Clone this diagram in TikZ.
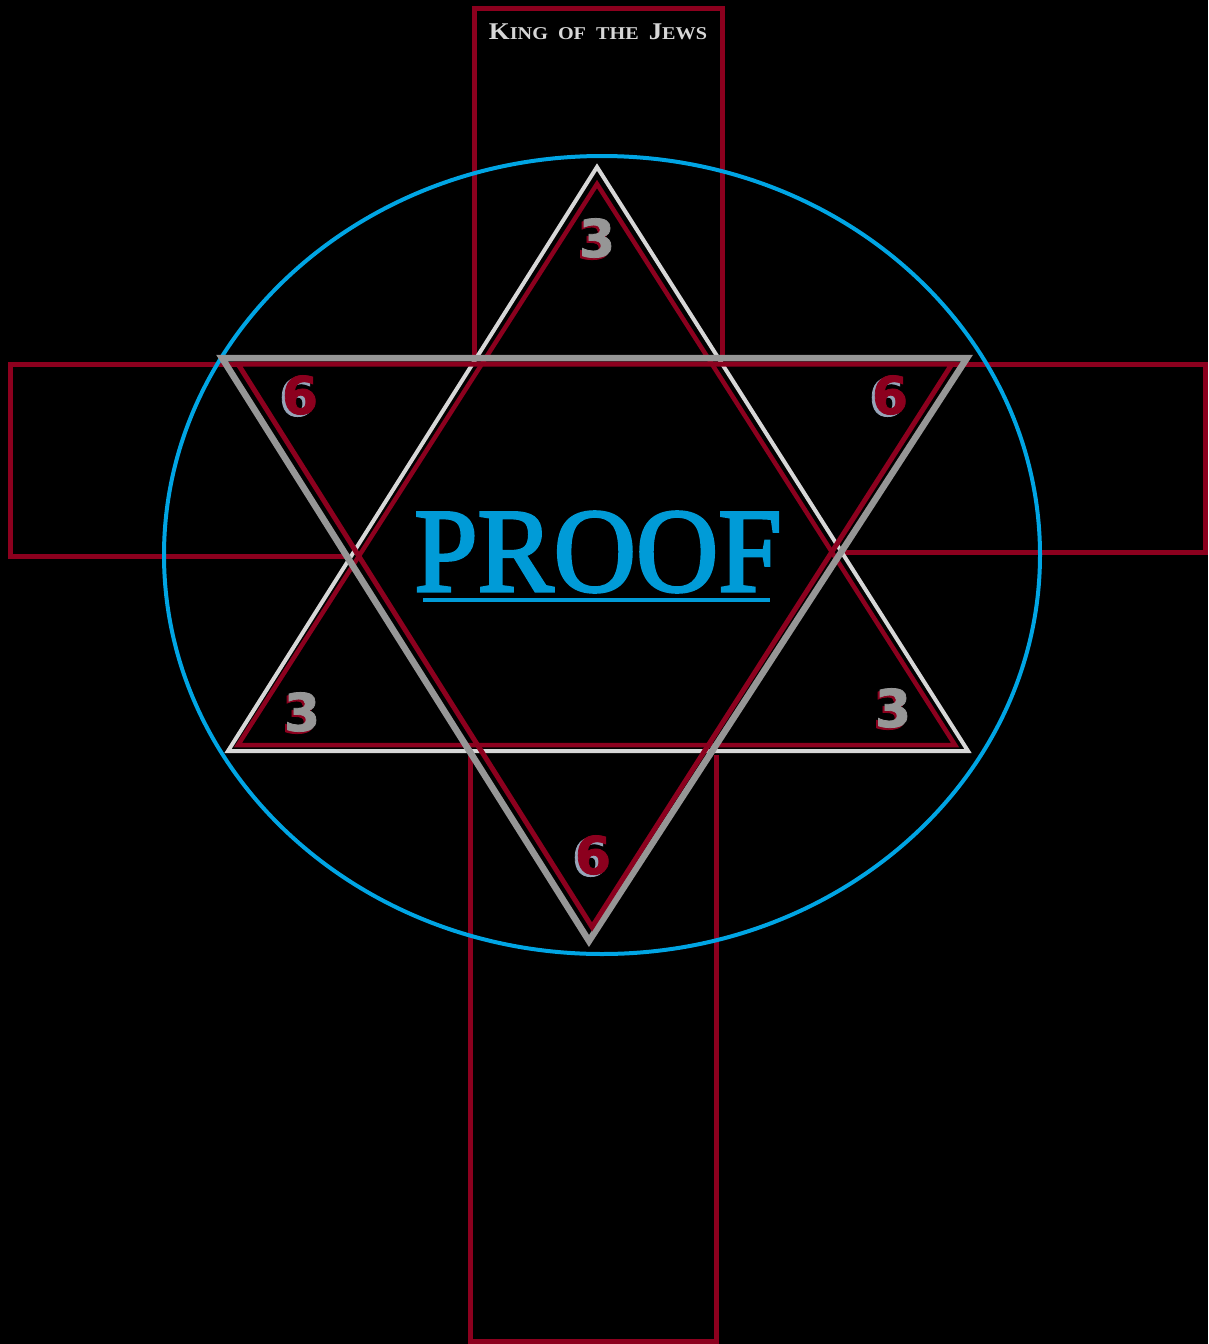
\documentclass[tikz,border=0pt]{standalone}
\usepackage{fontspec}
\setmainfont{Liberation Serif}
\newfontfamily\numfont[FakeBold=1.5]{DejaVu Sans Bold}
\newfontfamily\prooffont[FakeBold=2.5]{Liberation Serif}
\definecolor{crossred}{RGB}{140,0,30}
\definecolor{trigray}{RGB}{150,150,150}
\definecolor{triwhite}{RGB}{215,215,215}
\definecolor{ringblue}{RGB}{0,165,228}
\definecolor{proofblue}{RGB}{0,155,215}
\definecolor{shadowblue}{RGB}{150,165,185}
\tikzset{
  crossbox/.style={draw=crossred, line width=5pt, line join=miter},
  ring/.style={draw=ringblue, line width=4pt},
  uptri/.style={draw=triwhite, line width=4pt, line join=miter},
  upred/.style={draw=crossred, line width=4.5pt, line join=miter},
  downtri/.style={draw=trigray, line width=6.5pt, line join=miter},
  downred/.style={draw=crossred, line width=5pt, line join=miter},
  numbase/.style={font=\numfont\fontsize{52}{54}\selectfont, inner sep=0pt},
  numthree/.style={numbase, text=trigray},
  numthreeshadow/.style={numbase, text=crossred},
  numsix/.style={numbase, text=crossred},
  numsixshadow/.style={numbase, text=shadowblue},
}
\begin{document}
\begin{tikzpicture}[x=1pt, y=-1pt]
\useasboundingbox (0,0) rectangle (1208,1344);
\fill[black] (0,0) rectangle (1208,1344);

% vertices
\coordinate (wt) at (597,167);
\coordinate (wl) at (228,751);
\coordinate (wr) at (968,751);
\coordinate (rt) at (597,184);
\coordinate (rl) at (238,745);
\coordinate (rr) at (955,745);
\coordinate (gl) at (222,358);
\coordinate (gr) at (967,358);
\coordinate (gb) at (589,941);
\coordinate (dl) at (238,364);
\coordinate (dr) at (952,364);
\coordinate (db) at (592,927);

% cross
\draw[crossbox] (474,357) -- (474,8) -- (722,8) -- (722,357);
\draw[crossbox] (dl) -- (10,364) -- (10,556) -- (346,556);
\draw[crossbox] (dr) -- (1205,364) -- (1205,552) -- (842,552);
\draw[crossbox] (470,755) -- (470,1341) -- (716,1341) -- (716,755);

% ring
\draw[ring] (602,555) ellipse [x radius=438, y radius=399];

% upward triangles
\draw[uptri] (wt) -- (wl) -- (wr) -- cycle;
\draw[upred] (rt) -- (rl) -- (rr) -- cycle;

% downward triangles
\draw[downtri] (gl) -- (gr) -- (gb) -- cycle;
\draw[downred] (dl) -- (dr) -- (db) -- cycle;

% numbers
\node[numthreeshadow] (n1s) at (595,240) {3};
\node[numthree] (n1) at (597,238) {3};
\node[numthreeshadow] (n2s) at (300,714) {3};
\node[numthree] (n2) at (302,712) {3};
\node[numthreeshadow] (n3s) at (891,710) {3};
\node[numthree] (n3) at (893,708) {3};
\node[numsixshadow] (n4s) at (297,397) {6};
\node[numsix] (n4) at (300,395) {6};
\node[numsixshadow] (n5s) at (887,397) {6};
\node[numsix] (n5) at (890,395) {6};
\node[numsixshadow] (n6s) at (590,857) {6};
\node[numsix] (n6) at (593,855) {6};

% PROOF
\node[text=proofblue, inner sep=0pt, font=\prooffont\fontsize{120}{120}\selectfont, xscale=0.95] (proof) at (598,552) {PROOF};
\draw[draw=proofblue, line width=4pt] (423,600) -- (770,600);

% title
\node[text=triwhite, inner sep=0pt, font=\bfseries, xscale=1.12] (title) at (598,32)
  {{\fontsize{24}{24}\selectfont K}{\fontsize{18}{18}\selectfont ING\ \ OF\ \ THE\ \ }{\fontsize{24}{24}\selectfont J}{\fontsize{18}{18}\selectfont EWS}};
\end{tikzpicture}
\end{document}
